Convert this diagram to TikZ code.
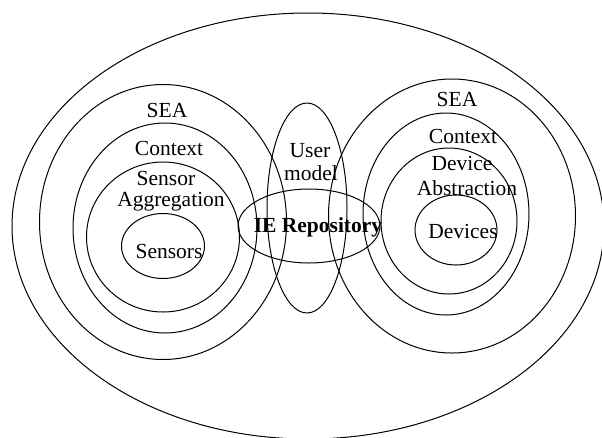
\documentclass[tikz,border=0pt]{standalone}
\usepackage{fontspec}
\setmainfont{Liberation Serif}
\usetikzlibrary{shapes.geometric}
\begin{document}
\begin{tikzpicture}[x=1pt,y=-1pt,
  ring/.style={draw=black,line width=1pt,ellipse,inner sep=0pt,minimum width=#1},
  lbl/.style={inner sep=0pt,anchor=base,font=\fontsize{21.5}{24}\selectfont},
  blbl/.style={lbl,font=\fontsize{21.5}{24}\selectfont\bfseries}]
\useasboundingbox (0,0) rectangle (602,437);
\clip (0,0) rectangle (602,437);
% outer
\node[ring=592pt,minimum height=426pt] (outer) at (308,226) {};
% left group
\node[ring=247pt,minimum height=275pt] (lsea) at (163,222) {};
\node[ring=184pt,minimum height=210pt] (lctx) at (165,228) {};
\node[ring=153pt,minimum height=150pt] (lagg) at (163,237) {};
\node[ring=83pt,minimum height=65pt] (lsens) at (163,246) {};
% right group
\node[ring=247pt,minimum height=274pt] (rsea) at (452,216) {};
\node[ring=166pt,minimum height=202pt] (rctx) at (446,214) {};
\node[ring=136pt,minimum height=146pt] (rabs) at (449,221) {};
\node[ring=82pt,minimum height=70pt] (rdev) at (456,230) {};
% middle
\node[ring=80pt,minimum height=210pt] (user) at (307,208) {};
\node[ring=142pt,minimum height=74pt] (repo) at (309,226) {};
% labels
\node[lbl] (tlsea) at (167,117) {SEA};
\node[lbl] (tlctx) at (169,155) {Context};
\node[lbl] (tlsen) at (166,185) {Sensor};
\node[lbl] (tlagg) at (171,206) {Aggregation};
\node[lbl] (tlsens) at (169,258) {Sensors};
\node[lbl] (tuser) at (310,157) {User};
\node[lbl] (tmodel) at (311,180) {model};
\node[blbl] (trepo) at (318,232) {IE Repository};
\node[lbl] (trsea) at (457,106) {SEA};
\node[lbl] (trctx) at (463,143) {Context};
\node[lbl] (trdev) at (462,170) {Device};
\node[lbl] (trabs) at (467,195) {Abstraction};
\node[lbl] (trdevs) at (463,238) {Devices};
\end{tikzpicture}
\end{document}
